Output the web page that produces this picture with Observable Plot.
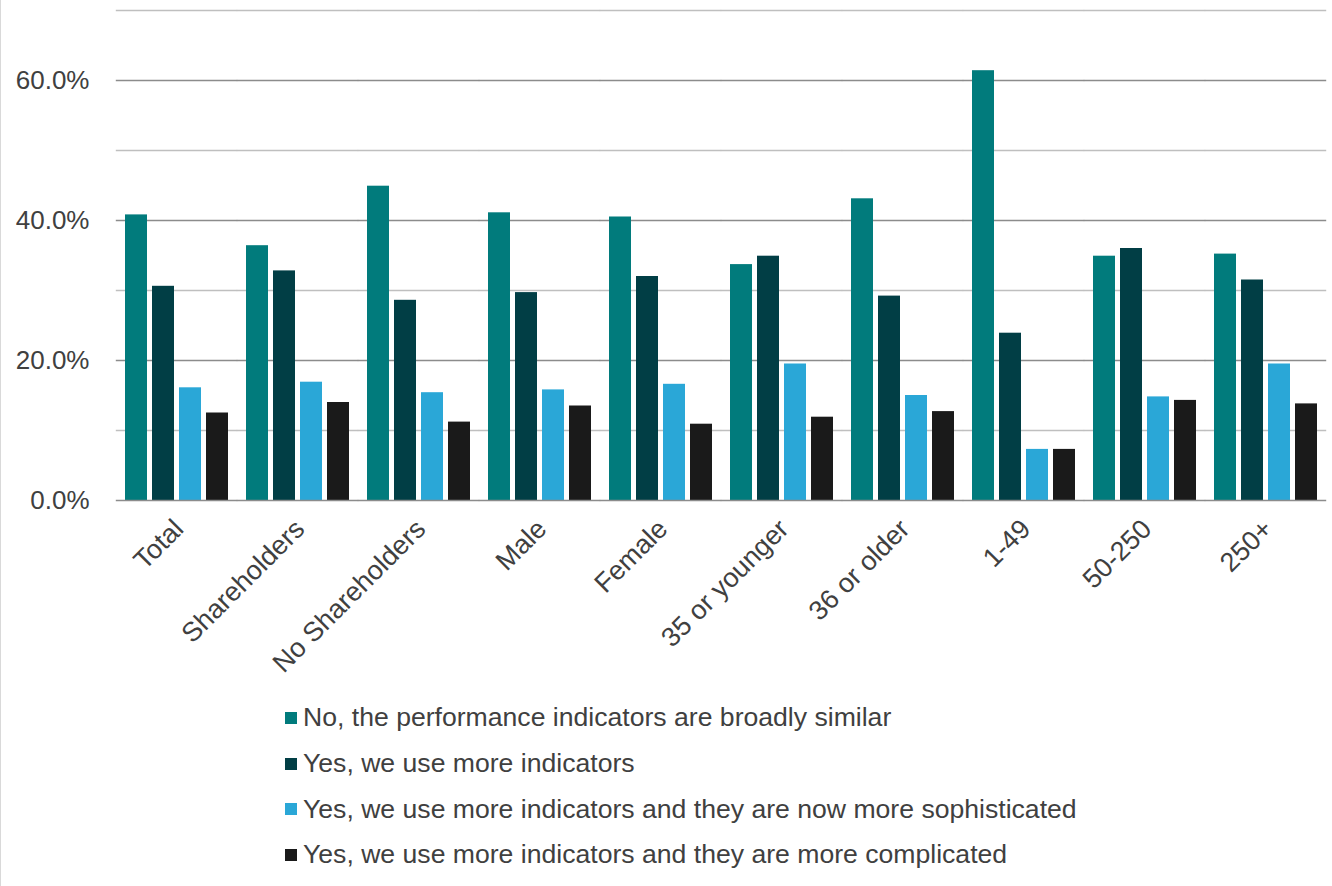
<!DOCTYPE html>
<html>
<head>
<meta charset="utf-8">
<script src="https://cdn.jsdelivr.net/npm/d3@7"></script>
<script src="https://cdn.jsdelivr.net/npm/@observablehq/plot@0.6"></script>
<style>
  html, body { margin: 0; padding: 0; background: #fff; }
  body { width: 1332px; height: 886px; position: relative; overflow: hidden; font-family: "Liberation Sans", Arial, sans-serif; }
  #frame { position: absolute; left: 0; top: 0; width: 1px; height: 886px; background: #d9d9d9; }
  #chart { position: absolute; left: 0; top: 0; }
  #legend { position: absolute; left: 285px; top: 695px; }
  .item { height: 45.7px; display: flex; align-items: center; font-size: 26.6px; color: #404040; white-space: nowrap; }
  .sw { width: 12px; height: 12px; margin-right: 6px; flex: none; }
</style>
</head>
<body>
<div id="frame"></div>
<div id="chart"></div>
<div id="legend"></div>
<script>
const categories = ["Total", "Shareholders", "No Shareholders", "Male", "Female", "35 or younger", "36 or older", "1-49", "50-250", "250+"];
const seriesNames = [
  "No, the performance indicators are broadly similar",
  "Yes, we use more indicators",
  "Yes, we use more indicators and they are now more sophisticated",
  "Yes, we use more indicators and they are more complicated"
];
const similar       = [40.8, 36.4, 44.9, 41.1, 40.5, 33.7, 43.1, 61.4, 34.9, 35.2];
const moreIndicators = [30.6, 32.8, 28.6, 29.7, 32.0, 34.9, 29.2, 23.9, 36.0, 31.5];
const sophisticated = [16.1, 16.9, 15.4, 15.8, 16.6, 19.5, 15.0, 7.3, 14.8, 19.5];
const complicated   = [12.5, 14.0, 11.2, 13.5, 10.9, 11.9, 12.7, 7.3, 14.3, 13.8];
const colors = ["#017B7C", "#013E45", "#2AA7D7", "#1A1A1A"];
const yTicks = [0, 20, 40, 60];
const minorGrid = [10, 30, 50, 70];

const seriesValues = [similar, moreIndicators, sophisticated, complicated];
const data = [];
categories.forEach((c, i) => {
  seriesNames.forEach((s, j) => data.push({category: c, series: s, value: seriesValues[j][i]}));
});

const ext = 8.2; // extend gridlines across the gaps between groups
const chart = Plot.plot({
  width: 1332,
  height: 700,
  marginLeft: 115,
  marginRight: 5,
  marginTop: 10,
  marginBottom: 200,
  style: {fontFamily: "'Liberation Sans', Arial, sans-serif", fontSize: "26px", color: "#404040", background: "transparent"},
  fx: {domain: categories, paddingInner: 0.134, paddingOuter: 0.067, label: null},
  x: {domain: seriesNames, paddingInner: 0.2, paddingOuter: 0, axis: null},
  y: {domain: [0, 70], label: null},
  color: {domain: seriesNames, range: colors},
  marks: [
    Plot.ruleY(minorGrid, {stroke: "#bfbfbf", strokeWidth: 1.3, insetLeft: -ext, insetRight: -ext}),
    Plot.ruleY(yTicks.slice(1), {stroke: "#8c8c8c", strokeWidth: 1.3, insetLeft: -ext, insetRight: -ext}),
    Plot.barY(data, {fx: "category", x: "series", y: "value", fill: "series"}),
    Plot.ruleY([0], {stroke: "#8c8c8c", strokeWidth: 1.5, insetLeft: -ext, insetRight: -ext}),
    Plot.axisY({ticks: yTicks, tickSize: 0, tickPadding: 35, tickFormat: d => d.toFixed(1) + "%", label: null, fill: "#404040", fontSize: 26}),
    Plot.axisFx({anchor: "bottom", tickRotate: -45, tickSize: 0, tickPadding: 24, dx: 2, label: null, fill: "#404040", fontSize: 27})
  ]
});
document.getElementById("chart").appendChild(chart);

const legend = document.getElementById("legend");
seriesNames.forEach((s, j) => {
  const row = document.createElement("div");
  row.className = "item";
  const sw = document.createElement("span");
  sw.className = "sw";
  sw.style.background = colors[j];
  const t = document.createElement("span");
  t.textContent = s;
  row.appendChild(sw);
  row.appendChild(t);
  legend.appendChild(row);
});
</script>
</body>
</html>
